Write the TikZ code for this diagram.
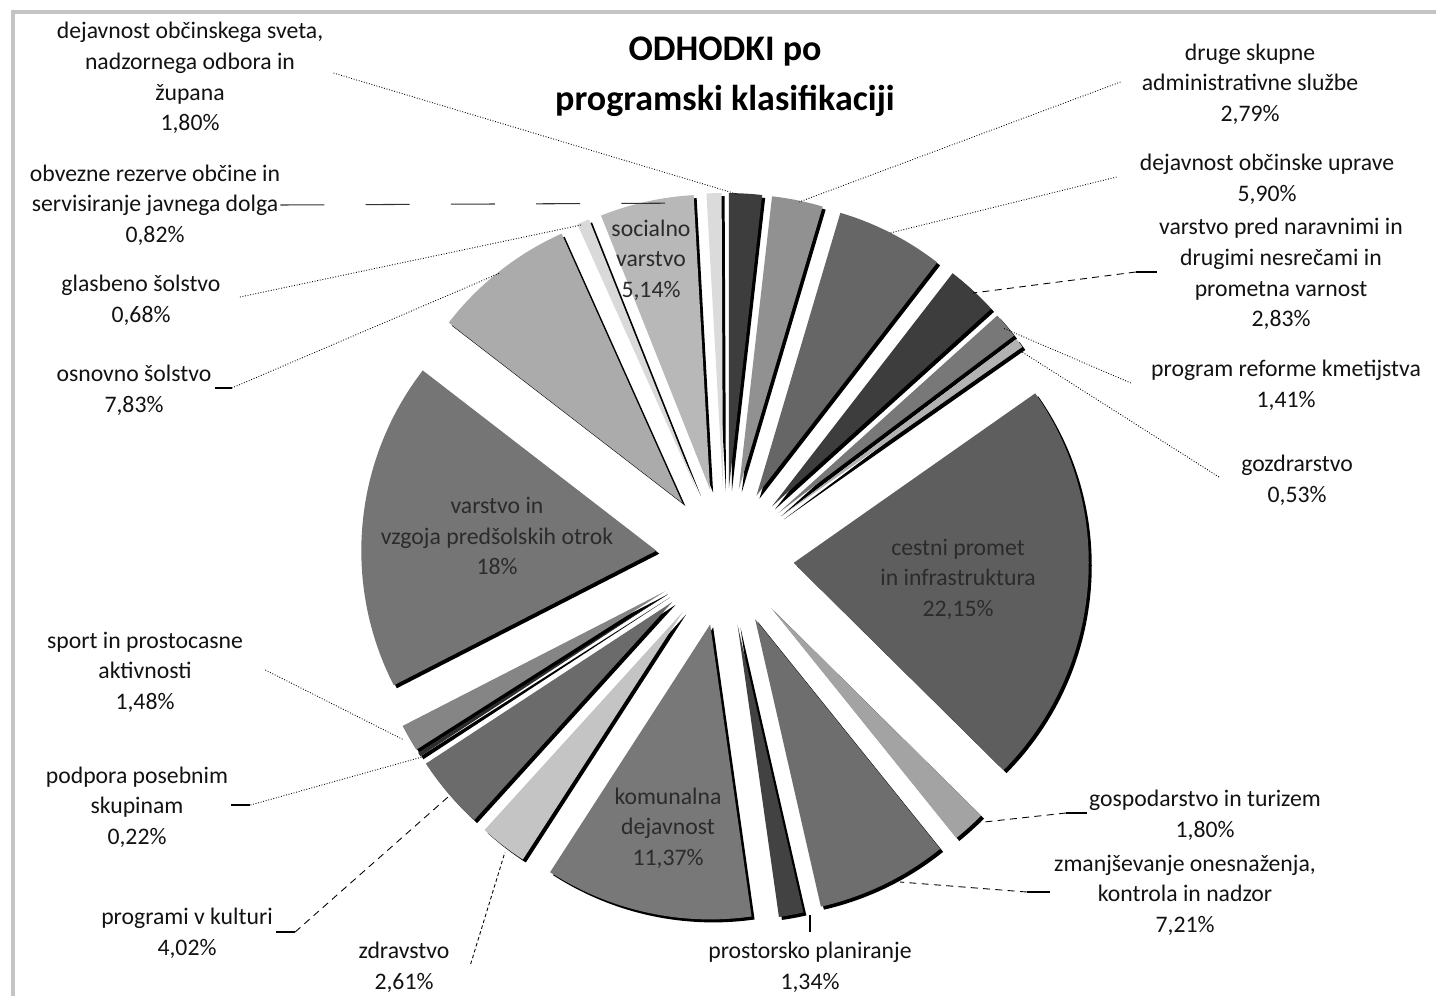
\documentclass[tikz,border=0pt]{standalone}
\usepackage{fontspec}
\setmainfont{Carlito}

% slice greys
\definecolor{csvet}{gray}{0.24}
\definecolor{cdruge}{gray}{0.57}
\definecolor{cuprava}{gray}{0.40}
\definecolor{cnarav}{gray}{0.24}
\definecolor{ckmet}{gray}{0.47}
\definecolor{cgozd}{gray}{0.70}
\definecolor{ccestni}{gray}{0.37}
\definecolor{cgosp}{gray}{0.64}
\definecolor{czmanj}{gray}{0.43}
\definecolor{cprost}{gray}{0.26}
\definecolor{ckomun}{gray}{0.47}
\definecolor{czdrav}{gray}{0.77}
\definecolor{ckult}{gray}{0.42}
\definecolor{cpodp}{gray}{0.18}
\definecolor{csport}{gray}{0.52}
\definecolor{cvzgoja}{gray}{0.46}
\definecolor{cosnov}{gray}{0.67}
\definecolor{cglasb}{gray}{0.85}
\definecolor{csocial}{gray}{0.72}
\definecolor{cobvez}{gray}{0.86}
\definecolor{labeltext}{gray}{0.07}
\definecolor{intext}{gray}{0.17}
\definecolor{framegray}{gray}{0.77}

\pgfdeclarelayer{shadowlayer}
\pgfsetlayers{shadowlayer,main}

\tikzset{
    %Define style for the texts round the pie
    outlabel/.style={
           align=center,
           inner sep=0pt,
           text=labeltext,
           font=\fontsize{13.5}{17.4}\selectfont},
    inlabel/.style={
           outlabel,
           text=intext},
    charttitle/.style={
           align=center,
           inner sep=0pt,
           text=black,
           font=\fontsize{20.5}{28.5}\selectfont\bfseries},
    % Define leader styles
    leaderdot/.style={
           black, line width=0.5pt,
           dash pattern=on 0.5pt off 1pt},
    leaderdash/.style={
           black, line width=0.5pt,
           dash pattern=on 4pt off 3pt},
    leaderlong/.style={
           black!80, line width=0.6pt,
           dash pattern=on 25pt off 23.5pt},
    leadertick/.style={
           black, line width=0.6pt},
    pieshadow/.style={black},
    frame/.style={framegray, line width=1.8pt}
}

% one exploded slice: start angle, end angle (clockwise from the top), colour
\newcommand{\pieslice}[3]{%
  \pgfmathsetmacro{\slmid}{(#1+#2)/2-90}%
  \pgfmathsetmacro{\sla}{#1-90}%
  \pgfmathsetmacro{\slb}{#2-90}%
  \begin{pgfonlayer}{shadowlayer}
    \fill[pieshadow] (728,560) ++(\slmid:69) -- ++(\sla:295) arc[start angle=\sla, end angle=\slb, radius=295] -- cycle;
  \end{pgfonlayer}
  \fill[#3] (725,557) ++(\slmid:69) -- ++(\sla:295) arc[start angle=\sla, end angle=\slb, radius=295] -- cycle;
}

\begin{document}
\begin{tikzpicture}[x=0.02cm,y=-0.02cm]
\useasboundingbox (0,0) rectangle (1436,995);
\draw[frame] (13,1000) -- (13,12) -- (1440,12);

% slices
\pieslice{0}{6.48}{csvet}
\pieslice{6.48}{16.524}{cdruge}
\pieslice{16.524}{37.764}{cuprava}
\pieslice{37.764}{47.952}{cnarav}
\pieslice{47.952}{53.028}{ckmet}
\pieslice{53.028}{54.936}{cgozd}
\pieslice{54.936}{134.676}{ccestni}
\pieslice{134.676}{141.156}{cgosp}
\pieslice{141.156}{167.112}{czmanj}
\pieslice{167.112}{171.936}{cprost}
\pieslice{171.936}{212.868}{ckomun}
\pieslice{212.868}{222.264}{czdrav}
\pieslice{222.264}{236.736}{ckult}
\pieslice{236.736}{237.528}{cpodp}
\pieslice{237.528}{242.856}{csport}
\pieslice{242.856}{307.656}{cvzgoja}
\pieslice{307.656}{335.844}{cosnov}
\pieslice{335.844}{338.292}{cglasb}
\pieslice{338.292}{356.796}{csocial}
\pieslice{356.796}{359.748}{cobvez}

\node[charttitle] (title) at (725,77) {ODHODKI po\\programski klasifikaciji};

% texts inside the slices
\node[inlabel] (social) at (651,260) {socialno\\varstvo\\5,14\%};
\node[inlabel] (vzgoja) at (497,536) {varstvo in\\vzgoja predšolskih otrok\\18\%};
\node[inlabel] (cestni) at (958,579) {cestni promet\\in infrastruktura\\22,15\%};
\node[inlabel] (komun) at (668,828) {komunalna\\dejavnost\\11,37\%};

% texts round the pie
\node[outlabel] (svet) at (190,78) {dejavnost občinskega sveta,\\nadzornega odbora in\\župana\\1,80\%};
\node[outlabel] (obvez) at (155,205) {obvezne rezerve občine in\\servisiranje javnega dolga\\0,82\%};
\node[outlabel] (glasb) at (141,300) {glasbeno šolstvo\\0,68\%};
\node[outlabel] (osnov) at (134,390) {osnovno šolstvo\\7,83\%};
\node[outlabel] (sport) at (145,672) {sport in prostocasne\\aktivnosti\\1,48\%};
\node[outlabel] (podp) at (137,807) {podpora posebnim\\skupinam\\0,22\%};
\node[outlabel] (kult) at (187,933) {programi v kulturi\\4,02\%};
\node[outlabel] (zdrav) at (404,967) {zdravstvo\\2,61\%};
\node[outlabel] (prost) at (810,967) {prostorsko planiranje\\1,34\%};
\node[outlabel] (zmanj) at (1185,895) {zmanjševanje onesnaženja,\\kontrola in nadzor\\7,21\%};
\node[outlabel] (gosp) at (1205,815) {gospodarstvo in turizem\\1,80\%};
\node[outlabel] (gozd) at (1297,480) {gozdrarstvo\\0,53\%};
\node[outlabel] (kmet) at (1286,385) {program reforme kmetijstva\\1,41\%};
\node[outlabel] (narav) at (1281,274) {varstvo pred naravnimi in\\drugimi nesrečami in\\prometna varnost\\2,83\%};
\node[outlabel] (uprava) at (1267,179) {dejavnost občinske uprave\\5,90\%};
\node[outlabel] (druge) at (1250,84) {druge skupne\\administrativne službe\\2,79\%};

% leader ends on the slices
\coordinate (svet-end) at (740,195);
\coordinate (obvez-end) at (706,203);
\coordinate (glasb-end) at (581,225);
\coordinate (osnov-end) at (500,273);
\coordinate (sport-end) at (404,740);
\coordinate (podp-end) at (422,757);
\coordinate (kult-end) at (448,797);
\coordinate (zdrav-end) at (505,852);
\coordinate (zmanj-end) at (900,882);
\coordinate (gosp-end) at (975,823);
\coordinate (gozd-end) at (1019,350);
\coordinate (kmet-end) at (1003,328);
\coordinate (narav-end) at (973,293);
\coordinate (uprava-end) at (890,233);
\coordinate (druge-end) at (799,202);

% leaders
\draw[leaderdot] (svet.east) ++(10,-5) -- (svet-end);
\draw[leaderlong] (obvez.east) -- (obvez-end);
\draw[leaderdot] (glasb.east) ++(19,-3) -- (glasb-end);
\draw[leadertick] (osnov.east) ++(3,-2) -- ++(17,0);
\draw[leaderdot] (osnov.east) ++(20,-2) -- (osnov-end);
\draw[leaderdot] (sport.east) ++(22,-2) -- (sport-end);
\draw[leadertick] (podp.east) ++(3,-2) -- ++(19,0);
\draw[leaderdot] (podp.east) ++(22,-2) -- (podp-end);
\draw[leadertick] (kult.east) ++(3,-1) -- ++(19,0);
\draw[leaderdash] (kult.east) ++(22,-1) -- (kult-end);
\draw[leaderdash, dash pattern=on 2pt off 1.5pt] (zdrav.east) ++(21,-3) -- (zdrav-end);
\draw[leadertick] (prost.north) ++(0,-10) -- ++(0,-17);
\draw[leadertick] (zmanj.west) ++(-4,-3) -- ++(-23,0);
\draw[leaderdash] (zmanj.west) ++(-27,-3) -- (zmanj-end);
\draw[leadertick] (gosp.west) ++(-2,-2) -- ++(-21,0);
\draw[leaderdash] (gosp.west) ++(-23,-2) -- (gosp-end);
\draw[leaderdot] (gozd.west) ++(-22,-3) -- (gozd-end);
\draw[leaderdot] (kmet.west) ++(-20,-2) -- (kmet-end);
\draw[leadertick] (narav.west) ++(-2,-2) -- ++(-21,0);
\draw[leaderdash] (narav.west) ++(-23,-2) -- (narav-end);
\draw[leaderdot] (uprava.west) ++(-23,-2) -- (uprava-end);
\draw[leaderdot] (druge.west) ++(-21,-2) -- (druge-end);

\end{tikzpicture}
\end{document}
